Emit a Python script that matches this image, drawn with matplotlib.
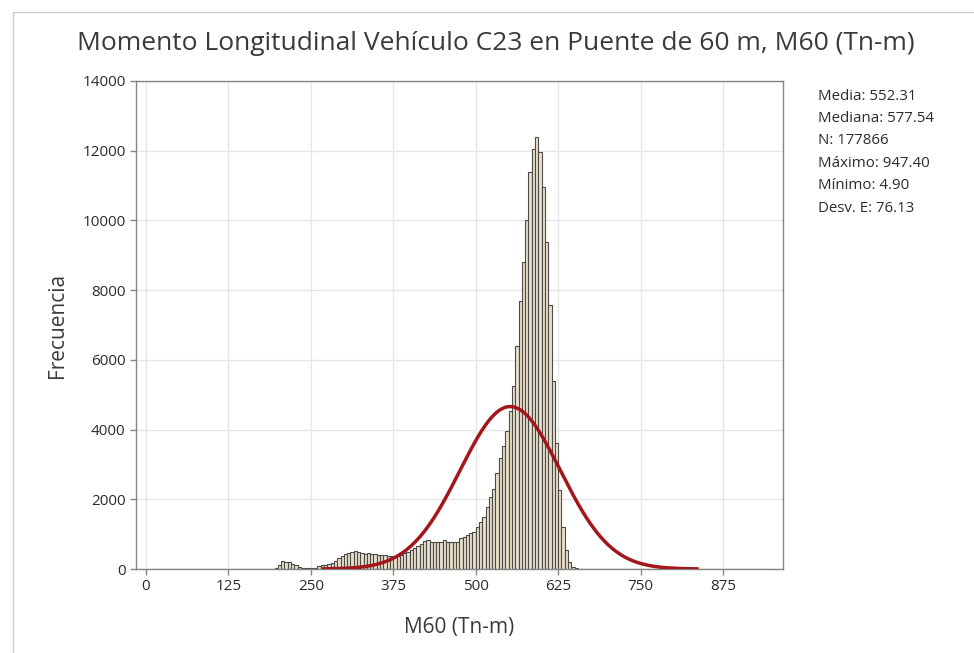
import numpy as np
import matplotlib.pyplot as plt
from matplotlib.patches import Rectangle

plt.rcParams['font.family'] = ['Open Sans', 'DejaVu Sans']

# Histograma de M60 (Tn-m), clases de 5 Tn-m
bin_width = 5

# cola izquierda, clases desde 5 hasta 190
low_start = 5
low_counts = [2, 1, 1, 2, 1, 1, 2, 1, 2, 2, 1, 2, 3, 2, 2, 3, 2, 3, 3, 2,
              3, 4, 3, 4, 3, 4, 5, 4, 5, 6, 5, 6, 7, 6, 8, 9, 10, 12]

# zona principal, clases desde 195 hasta 650
main_start = 195
main_counts = [30, 120, 220, 210, 200, 150, 110, 60, 30, 25,
               25, 30, 40, 90, 110, 120, 130, 180, 240, 320,
               380, 420, 470, 500, 520, 480, 470, 440, 460, 420,
               430, 400, 410, 390, 380, 370, 370, 375, 400, 450,
               500, 545, 590, 660, 720, 810, 830, 765, 775, 765,
               785, 820, 775, 765, 765, 765, 880, 910, 975, 1040,
               1070, 1215, 1360, 1480, 1790, 2075, 2300, 2750, 3180, 3540,
               3970, 4540, 5250, 6400, 7700, 8800, 10000, 11400, 12050, 12380,
               11970, 10970, 9390, 7570, 5400, 3610, 2260, 1210, 540, 210,
               60, 20]

# cola derecha, clases desde 655 hasta 945
high_start = 655
high_counts = [10, 6, 4, 3, 3, 2, 2, 2, 1, 1, 1, 1, 1, 1, 1, 1, 1, 1, 1, 1,
               1, 1, 1, 1, 1, 1, 1, 1, 1, 1, 1, 1, 1, 1, 1, 1, 1, 1, 1, 1,
               1, 1, 1, 1, 1, 1, 1, 1, 1, 1, 1, 1, 1, 1, 1, 1, 1, 1, 1]

media = 552.31
mediana = 577.54
n_datos = 177866
maximo = 947.40
minimo = 4.90
desv = 76.13

x_ticks = [0, 125, 250, 375, 500, 625, 750, 875]
y_ticks = [0, 2000, 4000, 6000, 8000, 10000, 12000, 14000]


def edges_for(start, counts):
    return start + bin_width * np.arange(len(counts))


fig = plt.figure(figsize=(9.74, 6.53), dpi=100)
ax = fig.add_axes([0.1396, 0.1286, 0.6643, 0.7474])

for start, counts in [(low_start, low_counts), (main_start, main_counts), (high_start, high_counts)]:
    ax.bar(edges_for(start, counts), counts, width=bin_width, align='edge',
           color='#e9dfca', edgecolor='#4a4a4a', linewidth=0.8, zorder=2)

# curva normal ajustada
xs = np.linspace(media - 3.72 * desv, media + 3.72 * desv, 400)
ys = n_datos * bin_width * np.exp(-0.5 * ((xs - media) / desv) ** 2) / (desv * np.sqrt(2 * np.pi))
ax.plot(xs, ys, color='#a3161c', linewidth=2.5, zorder=3)

ax.set_xlim(-15.2, 966)
ax.set_ylim(0, 14000)
ax.set_xticks(x_ticks)
ax.set_yticks(y_ticks)
ax.grid(True, color='#e6e6e6', linewidth=1.0, zorder=0)
ax.set_axisbelow(True)
for s in ax.spines.values():
    s.set_color('#858585')
    s.set_linewidth(1.0)
ax.tick_params(colors='#858585', labelcolor='#2b2b2b', labelsize=11, length=4, width=1)

ax.set_xlabel('M60 (Tn-m)', fontsize=15, color='#3a3a3a', labelpad=16)
ax.set_ylabel('Frecuencia', fontsize=15, color='#3a3a3a', labelpad=10)

fig.text(0.509, 0.933, 'Momento Longitudinal Vehículo C23 en Puente de 60 m, M60 (Tn-m)',
         ha='center', va='center', fontsize=19, color='#3a3a3a')

stats = ['Media: %.2f' % media, 'Mediana: %.2f' % mediana, 'N: %d' % n_datos,
         'Máximo: %.2f' % maximo, 'Mínimo: %.2f' % minimo, 'Desv. E: %.2f' % desv]
for i, s in enumerate(stats):
    fig.text(818 / 974, 1 - (96 + 22.4 * i) / 653, s, ha='left', va='center',
             fontsize=10.8, color='#2b2b2b')

# marco exterior
fig.patches.append(Rectangle((13 / 974, -0.05), 1.0, 1.0 - 12 / 653 + 0.05, transform=fig.transFigure,
                             fill=False, edgecolor='#cccccc', linewidth=1.0))

fig.savefig('out.png', dpi=100)
